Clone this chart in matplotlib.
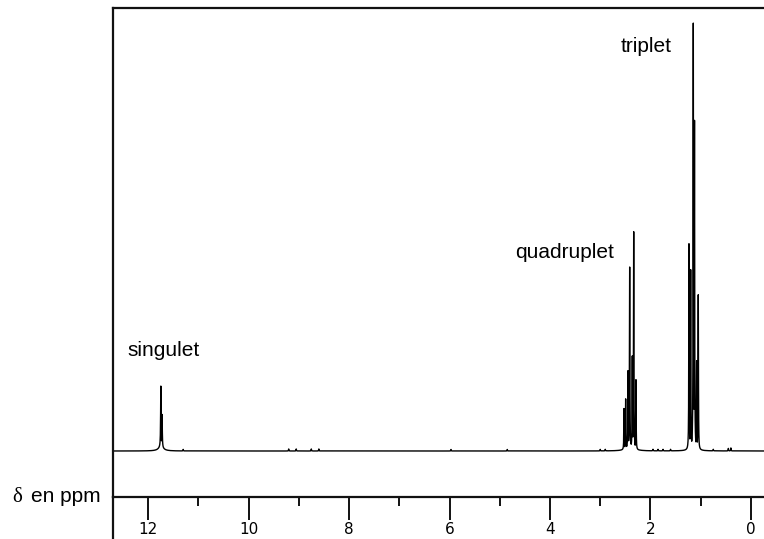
import numpy as np
import matplotlib
matplotlib.use("Agg")
import matplotlib.pyplot as plt

# peak list: position (ppm), height (arb.), half-width (ppm)
peak_ppm = [11.745, 11.72,
            2.527, 2.494, 2.448, 2.414, 2.362, 2.334, 2.289,
            1.234, 1.200, 1.148, 1.124, 1.081, 1.049]
peak_height = [61, 33,
               41, 50, 77, 180, 92, 217, 70,
               206, 179, 424, 327, 88, 155]
peak_width = [0.005, 0.005,
              0.004, 0.004, 0.004, 0.004, 0.004, 0.004, 0.004,
              0.004, 0.004, 0.004, 0.004, 0.004, 0.004]

# broad feet under the signals
foot_ppm = [11.74, 2.41, 1.14]
foot_height = [4, 4, 4]
foot_width = [0.06, 0.09, 0.07]

# small specks on the baseline
noise_ppm = [11.3, 9.2, 9.05, 8.75, 8.6, 5.97, 4.85, 3.0, 2.9,
             1.95, 1.85, 1.75, 1.6, 0.75, 0.45, 0.4]
noise_height = [1.5, 2, 2, 2, 2, 1.5, 1.5, 1.5, 1.5,
                1.5, 1.5, 1.5, 1.5, 1.5, 2.5, 3]

ticks_major = [0, 2, 4, 6, 8, 10, 12]
ticks_minor = [1, 3, 5, 7, 9, 11]

labels = ["singulet", "quadruplet", "triplet"]
label_ppm = [12.40, 4.70, 2.59]
label_y = [101, 198, 404]

W, H = 764, 539
fig = plt.figure(figsize=(W / 100, H / 100), dpi=100)
ax = fig.add_axes([113 / W, (H - 497) / H, (W - 113) / W, (497 - 8) / H])


def lorentz(x, p, h, w):
    return h * w**2 / ((x - p) ** 2 + w**2)


ppm = np.linspace(-0.5, 13, 40000)
lines = np.zeros_like(ppm)
for p, h, w in zip(peak_ppm, peak_height, peak_width):
    lines = np.maximum(lines, lorentz(ppm, p, h, w))
spec = lines.copy()
for p, h, w in zip(foot_ppm, foot_height, foot_width):
    spec += lorentz(ppm, p, h, w)
for p, h in zip(noise_ppm, noise_height):
    spec += lorentz(ppm, p, h, 0.004)

ax.plot(ppm, spec, color="black", lw=1.0)

ax.set_xlim(12.697, -0.259)
ax.set_ylim(-46, 443)

ax.spines["right"].set_visible(False)
for s in ["left", "top", "bottom"]:
    ax.spines[s].set_linewidth(1.6)
    ax.spines[s].set_color("#111111")

ax.set_yticks([])
ax.set_xticks(ticks_major)
ax.set_xticks(ticks_minor, minor=True)
ax.tick_params(axis="x", which="major", direction="out", length=16.5, width=1.4,
               pad=1.5, labelsize=11, color="#111111")
ax.tick_params(axis="x", which="minor", direction="out", length=6.5, width=1.4,
               color="#111111")

# left frame line keeps going below the scale
ax.plot([0, 0], [0, -(539 - 497) / (497 - 8)], transform=ax.transAxes,
        color="#111111", lw=1.6, clip_on=False)

for t, x, y in zip(labels, label_ppm, label_y):
    ax.text(x, y, t, ha="left", va="center", fontsize=15,
            family="Liberation Sans")

fig.text(12 / W, (H - 497) / H, "δ", ha="left", va="center", fontsize=15,
         family="Liberation Serif")
fig.text(31 / W, (H - 497) / H, "en ppm", ha="left", va="center", fontsize=15,
         family="Liberation Sans")

fig.savefig("out.png", dpi=100)
